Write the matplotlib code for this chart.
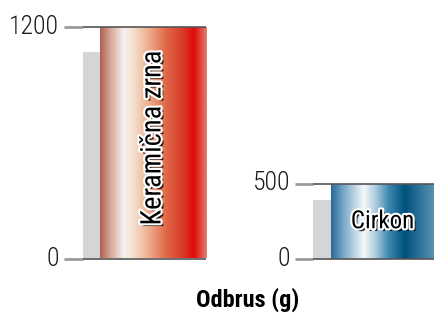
import matplotlib
matplotlib.use("Agg")
import matplotlib.pyplot as plt
import matplotlib.patheffects as pe
from matplotlib.colors import LinearSegmentedColormap
import numpy as np
import warnings
warnings.filterwarnings("ignore")

# data
panels = ["Keramična zrna", "Cirkon"]
main_values = [1200, 500]
ref_values = [1070, 390]
yticks = [[0, 1200], [0, 500]]
xlabel = "Odbrus (g)"

FONT = ["Roboto Condensed", "Archivo Narrow", "DejaVu Sans"]

red_cmap = LinearSegmentedColormap.from_list("r", [
    (0.00, "#b06050"), (0.10, "#d8a898"), (0.22, "#f4f0f0"), (0.30, "#f6e4d4"),
    (0.45, "#eeb090"), (0.62, "#e06848"), (0.78, "#d83a28"), (0.88, "#e00808"),
    (1.00, "#e08070")])
blue_cmap = LinearSegmentedColormap.from_list("b", [
    (0.00, "#2a6a98"), (0.12, "#78a8c8"), (0.32, "#f4f8fa"), (0.44, "#a8c8dc"),
    (0.56, "#3c88b0"), (0.72, "#00507c"), (0.85, "#2a7098"), (1.00, "#5a90b0")])
cmaps = [red_cmap, blue_cmap]

W, H = 434, 316
fig = plt.figure(figsize=(W / 100, H / 100), dpi=100)

# pixel layouts: (x_left, x_ref_left, x_bar_left, x_right, y_bottom, y_top)
layouts = [(64, 83, 100, 206, 258.5, 26.7), (295, 313, 331, 434, 259, 183.5)]
text_specs = [dict(rotation=90, fontsize=20.5), dict(rotation=0, fontsize=18)]
label_frac = [0.52, 0.5]

for i in range(2):
    xl, xr_ref, xb, xr, yb, yt = layouts[i]
    ax = fig.add_axes([xl / W, (H - yb) / H, (xr - xl) / W, (yb - yt) / H])
    ax.set_xlim(xl, xr)
    ax.set_ylim(0, yticks[i][-1])
    ax.axis("off")
    # reference (grey) bar
    ax.bar(xr_ref, ref_values[i], width=xb - xr_ref, align="edge",
           color="#d4d5d7", zorder=1)
    # main bar with gradient
    bar = ax.bar(xb, main_values[i], width=xr - xb, align="edge",
                 color="none", zorder=2)[0]
    grad = np.linspace(0, 1, 256).reshape(1, -1)
    im = ax.imshow(grad, cmap=cmaps[i], aspect="auto",
                   extent=[xb, xr, 0, main_values[i]], zorder=2)
    im.set_clip_path(bar)
    # tick lines
    for t in yticks[i]:
        ax.plot([xl, xr_ref], [t, t], color="#9a9a9a", lw=2.0, zorder=3,
                solid_capstyle="butt", clip_on=False)
        ax.plot([xr_ref, xr], [t, t], color="#555555", lw=1.2, zorder=3,
                solid_capstyle="butt", clip_on=False)
        ax.text(xl - 5, t, str(t), ha="right", va="center", fontsize=18.5,
                fontweight=300, family=FONT, color="#1a1a1a")
    ax.set_xlim(xl, xr)
    # label inside bar
    effects = [pe.SimplePatchShadow(offset=(2, -2), shadow_rgbFace="black", alpha=0.85),
               pe.Stroke(linewidth=3, foreground="white"), pe.Normal()]
    ax.text((xb + xr) / 2, main_values[i] * label_frac[i], panels[i], ha="center",
            va="center", family=FONT, color="black", zorder=5,
            path_effects=effects, **text_specs[i])

fig.text(248 / W, 1 - 300 / H, xlabel, ha="center", va="center",
         fontsize=17.5, fontweight="bold", family=FONT, color="black")

fig.savefig("out.png", dpi=100)
